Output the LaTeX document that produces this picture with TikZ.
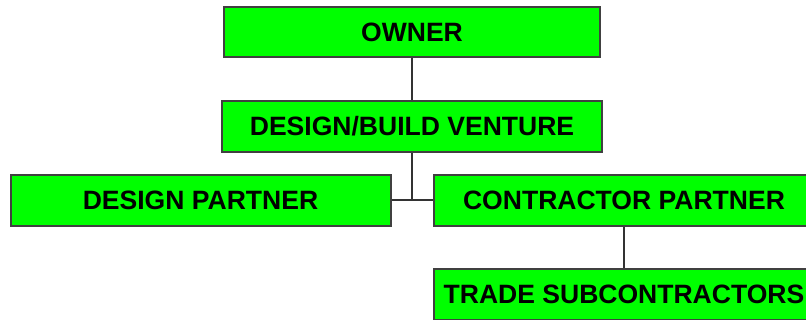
\documentclass[tikz,border=0pt]{standalone}
\usepackage{fontspec}
\setmainfont{Liberation Sans}
\definecolor{boxgreen}{HTML}{00FF00}
\definecolor{edgegray}{HTML}{404040}
\definecolor{linegray}{HTML}{333333}
\begin{document}
\begin{tikzpicture}[x=0.75pt,y=-0.75pt,
  orgbox/.style={draw=edgegray, line width=1.5pt, fill=boxgreen, minimum width=380*0.75pt, minimum height=51*0.75pt, inner sep=0pt, font=\fontsize{19.9}{23}\selectfont\bfseries, text=black},
  conn/.style={draw=linegray, line width=1.5pt}]
\useasboundingbox (0,0) rectangle (806,320);
\clip (0,0) rectangle (806,320);
\node[orgbox, minimum width=376*0.75pt, minimum height=50*0.75pt] (owner) at (412,32) {OWNER};
\node[orgbox] (dbv) at (412,126.5) {DESIGN/BUILD VENTURE};
\node[orgbox] (dp) at (200.5,200.5) {DESIGN PARTNER};
\node[orgbox] (cp) at (624,200.5) {CONTRACTOR PARTNER};
\node[orgbox] (ts) at (624,294.5) {TRADE SUBCONTRACTORS};
\coordinate (j) at (dbv.south |- dp.east);
\draw[conn] (owner.south) -- (dbv.north);
\draw[conn] (dbv.south) -- (j);
\draw[conn] (dp.east) -- (cp.west);
\draw[conn] (cp.south) -- (ts.north);
\end{tikzpicture}
\end{document}
